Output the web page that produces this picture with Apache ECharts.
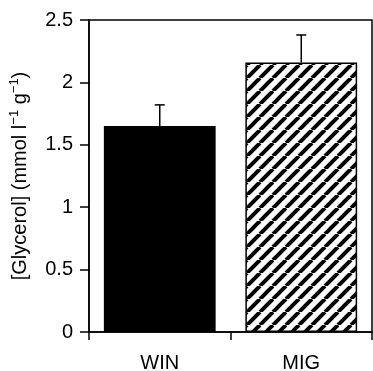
<!DOCTYPE html>
<html>
<head>
<meta charset="utf-8">
<script src="https://cdn.jsdelivr.net/npm/echarts@6/dist/echarts.min.js"></script>
<style>
  html, body { margin: 0; padding: 0; background: #fff; }
  #chart { width: 373px; height: 371px; }
</style>
</head>
<body>
<div id="chart"></div>
<script>
// groups, means and upper error (SE)
const groups = ['WIN', 'MIG']
const means = [1.65, 2.16]
const errors = [0.17, 0.22]
const yTicks = [0, 0.5, 1, 1.5, 2, 2.5]

// diagonal hatching for the MIG bar
function hatch() {
  const s = 13
  const c = document.createElement('canvas')
  c.width = s
  c.height = s
  const ctx = c.getContext('2d')
  ctx.fillStyle = '#fff'
  ctx.fillRect(0, 0, s, s)
  ctx.strokeStyle = '#000'
  ctx.lineWidth = 4
  for (let k = -1; k <= 1; k++) {
    ctx.beginPath()
    ctx.moveTo(k * s, s)
    ctx.lineTo(k * s + s, 0)
    ctx.stroke()
  }
  return c
}

const font = 'Liberation Sans, Arial, sans-serif'
const chart = echarts.init(document.getElementById('chart'))

chart.setOption({
  animation: false,
  grid: {
    left: 89, right: 1, top: 20, bottom: 39,
    outerBoundsMode: 'none',
    show: true, borderColor: '#000', borderWidth: 1.5
  },
  xAxis: {
    type: 'category',
    data: groups,
    axisLine: { lineStyle: { color: '#000', width: 1.5 } },
    axisTick: { show: true, length: 8, lineStyle: { color: '#000', width: 1.5 } },
    axisLabel: { color: '#000', fontSize: 20, fontFamily: font, margin: 21 }
  },
  yAxis: {
    type: 'value',
    min: yTicks[0],
    max: yTicks[yTicks.length - 1],
    interval: 0.5,
    splitLine: { show: false },
    axisLine: { show: true, lineStyle: { color: '#000', width: 1.5 } },
    axisTick: { show: true, length: 9, lineStyle: { color: '#000', width: 1.5 } },
    axisLabel: { color: '#000', fontSize: 20, fontFamily: font, margin: 16 },
    name: '{a|[Glycerol] (mmol l}{s|−1}{a| g}{s|−1}{a|)}',
    nameLocation: 'middle',
    nameRotate: 90,
    nameGap: 57,
    nameTextStyle: {
      rich: {
        a: { fontSize: 20, fontFamily: font, color: '#000', lineHeight: 24 },
        s: { fontSize: 13, fontFamily: font, color: '#000', lineHeight: 24, verticalAlign: 'top', padding: [0, 0, 9, 0] }
      }
    }
  },
  series: [
    {
      type: 'bar',
      barWidth: '79%',
      data: means.map((v, i) => ({
        value: v,
        itemStyle: i === 0
          ? { color: '#000' }
          : { color: { image: hatch(), repeat: 'repeat' }, borderColor: '#000', borderWidth: 1.5 }
      }))
    },
    {
      type: 'custom',
      z: 1,
      data: means.map((v, i) => [i, v, v + errors[i]]),
      renderItem(params, api) {
        const lo = api.coord([api.value(0), api.value(1)])
        const hi = api.coord([api.value(0), api.value(2)])
        const w = 5
        const style = { stroke: '#000', lineWidth: 1.5 }
        return {
          type: 'group',
          children: [
            { type: 'line', shape: { x1: lo[0], y1: lo[1], x2: hi[0], y2: hi[1] }, style },
            { type: 'line', shape: { x1: hi[0] - w, y1: hi[1], x2: hi[0] + w, y2: hi[1] }, style }
          ]
        }
      }
    }
  ]
})
</script>
</body>
</html>
